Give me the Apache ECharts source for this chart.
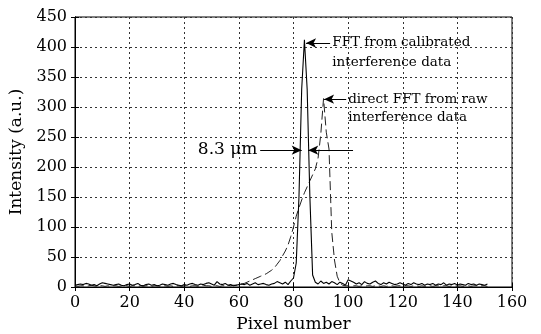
<!DOCTYPE html>
<html>
<head>
<meta charset="utf-8">
<script src="https://cdn.jsdelivr.net/npm/echarts@6/dist/echarts.min.js"></script>
<style>html,body{margin:0;padding:0;background:#fff}#c{width:541px;height:334px}</style>
</head>
<body>
<div id="c"></div>
<script>
// Intensity of FFT from calibrated interference data (pixel 0..151)
var calibrated = [
  3,4,5,4,6,5,3,4,2,5,
  7,6,5,4,3,4,5,3,2,4,
  5,3,4,6,3,2,4,5,3,4,
  2,3,5,4,3,5,6,4,3,2,
  4,3,5,6,4,3,5,4,6,7,
  5,3,9,5,4,6,3,4,2,3,
  4,5,4,6,3,5,7,4,5,6,
  4,3,5,6,9,7,5,8,4,10,
  15,40,150,330,412,330,150,20,8,5,
  10,6,8,5,9,7,4,8,6,3,
  12,10,8,5,7,4,9,6,5,8,
  10,6,4,7,5,8,6,4,5,7,
  5,3,6,4,7,5,4,6,3,5,
  4,6,3,5,4,7,3,5,4,6,
  3,5,4,3,6,4,5,3,5,4,
  3,5
];
// Intensity of direct FFT from raw interference data (pixel 0..151)
var raw = [
  2,1,2,2,1,2,3,2,1,2,
  2,1,2,1,2,2,1,2,3,2,
  1,2,2,1,2,1,2,2,1,2,
  2,1,2,2,1,2,1,2,2,1,
  2,2,1,2,2,1,2,3,2,2,
  1,2,2,1,2,2,3,2,3,3,
  4,5,6,8,10,12,14,16,18,20,
  22,25,28,32,38,44,52,60,70,84,
  100,118,132,145,157,167,177,187,197,215,
  255,314,258,230,92,45,18,7,3,2,
  2,1,2,2,1,2,1,2,2,1,
  2,2,1,2,1,2,2,1,2,2,
  1,2,2,1,2,2,1,2,1,2,
  2,1,2,2,1,2,2,1,2,2,
  1,2,1,2,2,1,2,2,1,2,
  2,1
];
var xTicks = [0,20,40,60,80,100,120,140,160];
var yTicks = [0,50,100,150,200,250,300,350,400,450];
var labelCal = ['FFT from calibrated', 'interference data'];
var labelRaw = ['direct FFT from raw', 'interference data'];
var labelDist = '8.3 μm';

var FONT = '"DejaVu Serif", serif';
function pairs(a){ return a.map(function(v,i){ return [i, v]; }); }

var chart = echarts.init(document.getElementById('c'));
var baseAxis = {
  type: 'value',
  axisLine: {show: true, lineStyle: {color: '#000', width: 1}},
  axisTick: {show: true, inside: true, length: 4, lineStyle: {color: '#000'}},
};
var arrowStyle = {color: '#000', width: 1, type: 'solid'};
var option = {
  animation: false,
  backgroundColor: '#fff',
  grid: {left: 75, right: 29, top: 17, bottom: 47, containLabel: false, outerBoundsMode: 'none',
         show: true, borderColor: '#000', borderWidth: 1, backgroundColor: 'transparent'},
  xAxis: [
    Object.assign({}, baseAxis, {
      min: xTicks[0], max: xTicks[xTicks.length-1], interval: 20, position: 'bottom',
      name: 'Pixel number', nameLocation: 'middle', nameGap: 28,
      nameTextStyle: {fontFamily: FONT, fontSize: 17, color: '#000'},
      axisLabel: {fontFamily: FONT, fontSize: 16, color: '#000', margin: 8},
      splitLine: {show: true, lineStyle: {color: '#333', type: [2,3], width: 1}}
    }),
    Object.assign({}, baseAxis, {
      min: xTicks[0], max: xTicks[xTicks.length-1], interval: 20, position: 'top',
      axisLabel: {show: false}, splitLine: {show: false}
    })
  ],
  yAxis: [
    Object.assign({}, baseAxis, {
      min: yTicks[0], max: yTicks[yTicks.length-1], interval: 50, position: 'left',
      name: 'Intensity (a.u.)', nameLocation: 'middle', nameGap: 45,
      nameTextStyle: {fontFamily: FONT, fontSize: 17, color: '#000'},
      axisLabel: {fontFamily: FONT, fontSize: 16, color: '#000', margin: 8},
      splitLine: {show: true, lineStyle: {color: '#333', type: [2,3], width: 1}}
    }),
    Object.assign({}, baseAxis, {
      min: yTicks[0], max: yTicks[yTicks.length-1], interval: 50, position: 'right',
      axisLabel: {show: false}, splitLine: {show: false}
    })
  ],
  series: [
    {
      type: 'line', data: pairs(raw), showSymbol: false, symbol: 'none',
      lineStyle: {color: '#222', width: 1, type: [9,4]}, z: 3
    },
    {
      type: 'line', data: pairs(calibrated), showSymbol: false, symbol: 'none',
      lineStyle: {color: '#000', width: 1.1}, z: 4,
      markLine: {
        silent: true, animation: false,
        symbol: ['none', 'arrow'], symbolSize: [7, 10],
        label: {show: false},
        lineStyle: arrowStyle,
        data: [
          [{coord: [93.4, 406.7]}, {coord: [84.6, 406.7]}],
          [{coord: [99.3, 313]}, {coord: [91.2, 313]}],
          [{coord: [67.8, 228]}, {coord: [83.0, 228]}],
          [{coord: [101.8, 228]}, {coord: [85.4, 228]}]
        ]
      }
    }
  ]
};
chart.setOption(option);

function px(x, y){ return chart.convertToPixel({gridIndex: 0}, [x, y]); }
var texts = [
  {p: px(94.2, 407), s: labelCal[0], size: 13.5, align: 'left'},
  {p: px(94.2, 375), s: labelCal[1], size: 13.5, align: 'left'},
  {p: px(100.0, 313), s: labelRaw[0], size: 13.5, align: 'left'},
  {p: px(100.0, 283), s: labelRaw[1], size: 13.5, align: 'left'},
  {p: px(66.8, 229), s: labelDist, size: 17, align: 'right'}
];
chart.setOption({
  graphic: texts.map(function(t){
    return {type: 'text', x: t.p[0], y: t.p[1], z: 10,
      style: {text: t.s, fontFamily: FONT, fontSize: t.size, fill: '#000', align: t.align, verticalAlign: 'middle'}};
  })
});
</script>
</body>
</html>
